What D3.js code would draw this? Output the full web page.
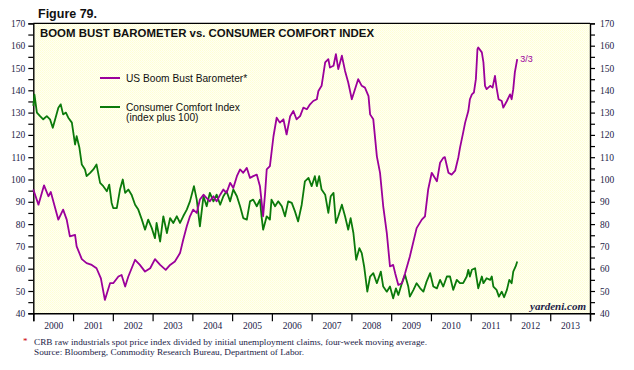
<!DOCTYPE html>
<html>
<head>
<meta charset="utf-8">
<script src="https://cdn.jsdelivr.net/npm/d3@7"></script>
<style>
  body { margin: 0; background: #fff; }
  svg { display: block; }
</style>
</head>
<body>
<div class="graph"></div>
<script>
// US Boom Bust Barometer (decimal year, value)
const bbbYears = [2000.00,2000.13,2000.27,2000.38,2000.44,2000.63,2000.75,2000.84,2000.92,2001.05,2001.09,2001.22,2001.34,2001.47,2001.59,2001.70,2001.80,2001.93,2002.01,2002.14,2002.22,2002.31,2002.39,2002.56,2002.68,2002.81,2002.94,2003.06,2003.19,2003.33,2003.44,2003.56,2003.69,2003.77,2003.86,2003.94,2004.02,2004.11,2004.19,2004.28,2004.36,2004.44,2004.53,2004.61,2004.70,2004.78,2004.86,2004.95,2005.03,2005.12,2005.20,2005.28,2005.37,2005.45,2005.53,2005.62,2005.70,2005.78,2005.83,2005.87,2005.95,2006.04,2006.12,2006.20,2006.29,2006.37,2006.46,2006.54,2006.62,2006.71,2006.79,2006.88,2006.96,2007.04,2007.13,2007.17,2007.25,2007.34,2007.42,2007.46,2007.55,2007.61,2007.67,2007.76,2007.84,2007.92,2008.01,2008.09,2008.17,2008.26,2008.34,2008.43,2008.47,2008.55,2008.64,2008.72,2008.80,2008.89,2008.97,2009.05,2009.10,2009.18,2009.27,2009.35,2009.47,2009.64,2009.77,2009.85,2009.93,2010.02,2010.10,2010.15,2010.23,2010.31,2010.35,2010.44,2010.52,2010.61,2010.69,2010.73,2010.81,2010.86,2010.94,2010.98,2011.03,2011.08,2011.13,2011.17,2011.19,2011.28,2011.32,2011.36,2011.40,2011.49,2011.55,2011.61,2011.65,2011.70,2011.78,2011.82,2011.91,2011.99,2012.03,2012.07,2012.11,2012.17];
const bbbValues = [95.5,88.7,97.4,92.5,94.4,82,86.5,82,74.5,75.2,70,64.3,62.5,61.7,60.2,55.7,46,53.5,53.5,56.5,57.2,52,56.5,64,61.7,58.7,60.2,64.3,61.7,59.5,61.7,63.2,67,73,79,83.5,86.5,85,91,93.2,91.7,90.2,92.5,90.2,93.2,95.5,94,98.5,96.2,101.5,104.5,103,105.2,100.7,101.5,102.2,97,83.5,94,104.5,106,119.4,127.7,125.5,127,120.2,128.4,130.7,127,128.4,132.2,131.5,133.7,135.2,136,139.7,142,152.5,154,150.2,151,156.2,149.5,155.5,148.7,143.5,136,140.5,145,142,141.2,137.4,129.2,127,110.4,103,88,76,61,61.7,58,52.7,53.5,58,65.5,78.2,82,83.5,95.5,103,100.7,99.2,107.5,109.7,110,103,102.2,104,110,114.2,121,125.5,130.7,136,138.2,139,145,158.5,159.2,157,152.5,142,140.5,142,141.2,146.5,141.2,136,135.2,132.2,135.2,138.2,136,140.5,148,154];

// Consumer Comfort Index (index plus 100)
const cciYears = [2000.00,2000.03,2000.09,2000.17,2000.25,2000.34,2000.42,2000.49,2000.55,2000.63,2000.69,2000.75,2000.82,2000.88,2000.97,2001.05,2001.09,2001.16,2001.22,2001.30,2001.34,2001.43,2001.51,2001.59,2001.68,2001.76,2001.85,2001.91,2001.97,2002.01,2002.10,2002.18,2002.25,2002.31,2002.39,2002.47,2002.56,2002.64,2002.73,2002.81,2002.89,2002.98,2003.06,2003.10,2003.19,2003.27,2003.36,2003.44,2003.52,2003.61,2003.69,2003.77,2003.86,2003.94,2004.04,2004.11,2004.19,2004.28,2004.36,2004.44,2004.53,2004.61,2004.70,2004.78,2004.86,2004.95,2005.03,2005.12,2005.20,2005.28,2005.37,2005.45,2005.53,2005.62,2005.70,2005.74,2005.78,2005.87,2005.95,2005.99,2006.08,2006.16,2006.25,2006.33,2006.41,2006.50,2006.58,2006.66,2006.75,2006.83,2006.92,2007.00,2007.08,2007.13,2007.19,2007.25,2007.34,2007.42,2007.48,2007.55,2007.61,2007.67,2007.76,2007.84,2007.92,2007.98,2008.05,2008.12,2008.20,2008.26,2008.32,2008.40,2008.47,2008.55,2008.64,2008.74,2008.80,2008.89,2008.97,2009.05,2009.12,2009.18,2009.27,2009.35,2009.43,2009.47,2009.56,2009.64,2009.73,2009.81,2009.89,2009.98,2010.06,2010.15,2010.23,2010.31,2010.40,2010.48,2010.56,2010.65,2010.73,2010.81,2010.90,2010.94,2010.98,2011.03,2011.11,2011.15,2011.19,2011.28,2011.32,2011.40,2011.49,2011.53,2011.57,2011.65,2011.71,2011.78,2011.84,2011.91,2011.97,2012.03,2012.07,2012.13,2012.17];
const cciValues = [133,138,130,128.4,127,128.4,127,123.2,127,132.2,133.7,129.2,130,127.7,125.5,115.7,119.4,114.2,106.7,104.5,101.5,103,104.5,106.7,98.5,97,94.7,97.7,89.5,87.2,87.2,95.5,100,94,95.5,93.2,88.7,86.5,82,77.5,82,78.2,73.7,80.5,72.2,83.5,76,82.7,80.5,83.5,80.5,83.5,86.5,90.2,97,91,79,92.5,88,94,90.2,93.2,88.7,92.5,94.7,90.2,95.5,92.5,88,82.7,82,90.2,91,88,91,83.5,77.5,83.5,82,91,88,90.2,88,83.5,90.2,89.5,85.7,81.2,88.7,99.2,100.7,97,101.5,97,101.5,95.5,93.2,85,92.5,94,80.5,83.5,88.7,83.5,77.5,82.7,76,64,69.2,67,61,49.7,56.5,58,53.5,58.7,52,49.7,52,46.7,51.2,48.2,53.5,57.2,52,47.5,50.5,53.5,51.2,49.7,54.2,58,52,51.2,55,52,56.5,56.5,50.5,55,53.5,53.5,56.5,59.5,56.5,59.5,60.2,55.7,51.2,56.5,53.5,55.7,55,56.5,52,50.5,47.5,49.7,47.2,50.5,55,53.5,58.7,61,63.2];

const yTicks = d3.range(40, 171, 5);
const yearTicks = d3.range(2000, 2015);
const yearLabels = d3.range(2000, 2014);

const width = 634;
const height = 370;
const plotLeft = 33.3, plotRight = 590, plotTop = 23.4, plotBottom = 313.3;

let svg = d3.select(".graph")
  .append("svg")
  .attr("width", width)
  .attr("height", height);

// dotted pale yellow fill like the original
let defs = svg.append("defs");
let pat = defs.append("pattern")
  .attr("id", "dots")
  .attr("width", 2).attr("height", 2)
  .attr("patternUnits", "userSpaceOnUse");
pat.append("rect").attr("width", 2).attr("height", 2).attr("fill", "#fffff4");
pat.append("rect").attr("width", 1).attr("height", 1).attr("fill", "#ffffd4");
pat.append("rect").attr("x", 1).attr("y", 1).attr("width", 1).attr("height", 1).attr("fill", "#ffffdc");

let x = d3.scaleLinear().domain([2000, 2014]).range([plotLeft, plotRight]);
let y = d3.scaleLinear().domain([40, 170]).range([plotBottom, plotTop]);

svg.append("rect")
  .attr("x", plotLeft).attr("y", plotTop)
  .attr("width", plotRight - plotLeft).attr("height", plotBottom - plotTop)
  .attr("fill", "url(#dots)");

const labelColor = "#1c1c48";

// left axis
let yLeft = svg.append("g")
  .attr("transform", "translate(" + plotLeft + ",0)")
  .call(d3.axisLeft(y).tickValues(yTicks).tickSize(5).tickPadding(3)
    .tickFormat(d => d % 10 === 0 ? d : ""));

// right axis
let yRight = svg.append("g")
  .attr("transform", "translate(" + plotRight + ",0)")
  .call(d3.axisRight(y).tickValues(yTicks).tickSize(5).tickPadding(5)
    .tickFormat(d => d % 10 === 0 ? d : ""));

// bottom ticks at year boundaries
let xAxis = svg.append("g")
  .attr("transform", "translate(0," + plotBottom + ")")
  .call(d3.axisBottom(x).tickValues(yearTicks).tickSize(8).tickFormat(""));

// year labels centred in each year
let xLabels = svg.append("g")
  .attr("transform", "translate(0," + plotBottom + ")")
  .call(d3.axisBottom(x).tickValues(yearLabels.map(d => d + 0.5)).tickSize(0).tickPadding(9)
    .tickFormat(d => Math.floor(d)));
xLabels.select(".domain").remove();

[yLeft, yRight, xAxis, xLabels].forEach(g => {
  g.selectAll(".domain").attr("stroke", "#000").attr("stroke-width", 1.4);
  g.selectAll(".tick line").attr("stroke", "#000").attr("stroke-width", 1.2);
  g.selectAll("text")
    .attr("font-family", "'Liberation Serif', 'DejaVu Serif', serif")
    .attr("font-size", 9.5)
    .attr("fill", labelColor);
});

// top border
svg.append("line")
  .attr("x1", plotLeft).attr("x2", plotRight)
  .attr("y1", plotTop).attr("y2", plotTop)
  .attr("stroke", "#000").attr("stroke-width", 1.4);

// lines
let line = d3.line()
  .x(d => x(d[0]))
  .y(d => y(d[1]));

let cciData = cciYears.map((d, i) => [d, cciValues[i]]);
let bbbData = bbbYears.map((d, i) => [d, bbbValues[i]]);

svg.append("path")
  .datum(cciData)
  .attr("d", line)
  .attr("fill", "none")
  .attr("stroke", "#0b7a0b")
  .attr("stroke-width", 1.8)
  .attr("stroke-linejoin", "round");

svg.append("path")
  .datum(bbbData)
  .attr("d", line)
  .attr("fill", "none")
  .attr("stroke", "#9b009b")
  .attr("stroke-width", 1.8)
  .attr("stroke-linejoin", "round");

// end label
let last = bbbData[bbbData.length - 1];
svg.append("text")
  .attr("x", x(last[0]) + 3)
  .attr("y", y(last[1]) + 3)
  .attr("font-family", "'Liberation Sans', Arial, sans-serif")
  .attr("font-size", 9)
  .attr("fill", "#9b009b")
  .text("3/3");

// titles
svg.append("text")
  .attr("x", 38).attr("y", 18.3)
  .attr("font-family", "'Liberation Sans', Arial, sans-serif")
  .attr("font-size", 12.5)
  .attr("font-weight", "bold")
  .attr("fill", "#111")
  .text("Figure 79.");

svg.append("text")
  .attr("x", 40).attr("y", 36.7)
  .attr("font-family", "'Liberation Sans', Arial, sans-serif")
  .attr("font-size", 11)
  .attr("font-weight", "bold")
  .attr("fill", "#111")
  .attr("textLength", 334)
  .attr("lengthAdjust", "spacingAndGlyphs")
  .text("BOOM BUST BAROMETER vs. CONSUMER COMFORT INDEX");

// legend
const legendFont = "'Liberation Sans', Arial, sans-serif";
svg.append("line")
  .attr("x1", 100).attr("x2", 120).attr("y1", 78).attr("y2", 78)
  .attr("stroke", "#9b009b").attr("stroke-width", 2);
svg.append("text")
  .attr("x", 126).attr("y", 82)
  .attr("font-family", legendFont).attr("font-size", 10.2).attr("fill", "#111")
  .text("US Boom Bust Barometer*");

svg.append("line")
  .attr("x1", 100).attr("x2", 120).attr("y1", 107).attr("y2", 107)
  .attr("stroke", "#0b7a0b").attr("stroke-width", 2);
svg.append("text")
  .attr("x", 126).attr("y", 110.7)
  .attr("font-family", legendFont).attr("font-size", 10.2).attr("fill", "#111")
  .text("Consumer Comfort Index");
svg.append("text")
  .attr("x", 126).attr("y", 120.7)
  .attr("font-family", legendFont).attr("font-size", 10.2).attr("fill", "#111")
  .text("(index plus 100)");

// watermark
svg.append("text")
  .attr("x", 586).attr("y", 309.5)
  .attr("text-anchor", "end")
  .attr("font-family", "'Liberation Serif', serif")
  .attr("font-style", "italic")
  .attr("font-weight", "bold")
  .attr("font-size", 11)
  .attr("fill", "#1c1c48")
  .text("yardeni.com");

// footnote
svg.append("text")
  .attr("x", 23).attr("y", 344)
  .attr("font-family", "'Liberation Serif', serif")
  .attr("font-size", 9)
  .attr("fill", "#cc0000")
  .text("*");
svg.append("text")
  .attr("x", 34).attr("y", 345.3)
  .attr("font-family", "'Liberation Serif', serif")
  .attr("font-size", 9.2)
  .attr("fill", labelColor)
  .attr("textLength", 393)
  .attr("lengthAdjust", "spacingAndGlyphs")
  .text("CRB raw industrials spot price index divided by initial unemployment claims, four-week moving average.");
svg.append("text")
  .attr("x", 34).attr("y", 354.7)
  .attr("font-family", "'Liberation Serif', serif")
  .attr("font-size", 9.2)
  .attr("fill", labelColor)
  .attr("textLength", 270)
  .attr("lengthAdjust", "spacingAndGlyphs")
  .text("Source: Bloomberg, Commodity Research Bureau, Department of Labor.");
</script>
</body>
</html>
